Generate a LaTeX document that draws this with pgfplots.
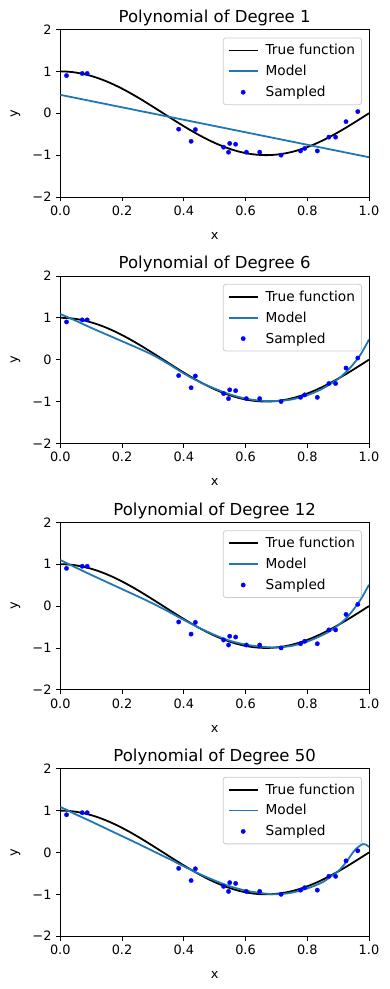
\documentclass[border=0pt]{standalone}
\usepackage{pgfplots}
\pgfplotsset{compat=1.18}
\usepackage{fontspec}
\setmainfont{DejaVu Sans}
\definecolor{mplblue}{HTML}{1F77B4}

\pgfplotstableread{
x y
0.0202 0.90
0.0710 0.95
0.0871 0.95
0.3834 -0.38
0.4237 -0.67
0.4376 -0.39
0.5289 -0.81
0.5449 -0.93
0.5488 -0.72
0.5680 -0.74
0.6028 -0.93
0.6459 -0.93
0.7152 -1.00
0.7782 -0.90
0.7917 -0.84
0.8326 -0.90
0.8700 -0.57
0.8918 -0.57
0.9256 -0.20
0.9637 0.04
}\sampled

\pgfplotstableread{
x y
0.000 1.00000
0.025 0.99307
0.050 0.97237
0.075 0.93819
0.100 0.89101
0.125 0.83147
0.150 0.76041
0.175 0.67880
0.200 0.58779
0.225 0.48862
0.250 0.38268
0.275 0.27144
0.300 0.15643
0.325 0.03926
0.350 -0.07846
0.375 -0.19509
0.400 -0.30902
0.425 -0.41866
0.450 -0.52250
0.475 -0.61909
0.500 -0.70711
0.525 -0.78532
0.550 -0.85264
0.575 -0.90814
0.600 -0.95106
0.625 -0.98079
0.650 -0.99692
0.675 -0.99923
0.700 -0.98769
0.725 -0.96246
0.750 -0.92388
0.775 -0.87250
0.800 -0.80902
0.825 -0.73432
0.850 -0.64945
0.875 -0.55557
0.900 -0.45399
0.925 -0.34612
0.950 -0.23345
0.975 -0.11754
1.000 0.00000
}\truefn

\pgfplotstableread{
x y
0 0.44
1 -1.05
}\modelA

\pgfplotstableread{
x y
0.00 1.09
0.05 0.93
0.10 0.76
0.15 0.60
0.20 0.44
0.25 0.28
0.30 0.11
0.35 -0.10
0.40 -0.33
0.45 -0.53
0.50 -0.69
0.55 -0.83
0.60 -0.93
0.65 -0.98
0.70 -0.99
0.75 -0.95
0.80 -0.85
0.85 -0.69
0.90 -0.46
0.925 -0.30
0.95 -0.10
0.975 0.15
1.00 0.48
}\modelB

\pgfplotstableread{
x y
0.00 1.10
0.05 0.92
0.10 0.745
0.15 0.575
0.20 0.405
0.25 0.235
0.30 0.06
0.35 -0.13
0.40 -0.33
0.45 -0.52
0.50 -0.69
0.55 -0.83
0.60 -0.92
0.65 -0.97
0.70 -0.99
0.75 -0.95
0.80 -0.85
0.85 -0.69
0.875 -0.59
0.90 -0.46
0.925 -0.30
0.95 -0.08
0.975 0.18
1.00 0.51
}\modelC

\pgfplotstableread{
x y
0.00 1.09
0.05 0.91
0.10 0.74
0.15 0.565
0.20 0.39
0.25 0.215
0.30 0.035
0.35 -0.145
0.40 -0.33
0.45 -0.51
0.50 -0.67
0.55 -0.81
0.60 -0.91
0.65 -0.97
0.70 -1.00
0.75 -0.96
0.80 -0.86
0.85 -0.71
0.875 -0.58
0.90 -0.45
0.925 -0.24
0.95 0.02
0.965 0.13
0.98 0.20
0.99 0.19
1.00 0.13
}\modelD

\pgfplotsset{
  panel/.style={
    scale only axis,
    width=308.7pt, height=167.5pt,
    xmin=0, xmax=1, ymin=-2, ymax=2,
    xtick={0,0.2,0.4,0.6,0.8,1.0},
    xticklabels={0.0,0.2,0.4,0.6,0.8,1.0},
    ytick={-2,-1,0,1,2},
    yticklabels={−2,−1,0,1,2},
    xtick pos=bottom, ytick pos=left,
    tick align=outside,
    major tick length=4.3pt,
    tick style={black, line width=0.8pt},
    axis line style={line width=0.8pt},
    ticklabel style={font=\fontsize{12.9}{15}\selectfont},
    xticklabel style={yshift=-1pt},
    yticklabel style={xshift=-1pt},
    every axis title/.style={at={(axis description cs:0.5,1.0436)}, anchor=base, font=\fontsize{16.5}{19}\selectfont},
    every axis x label/.style={at={(axis description cs:0.5,-0.2537)}, anchor=base, font=\fontsize{12.9}{15}\selectfont},
    every axis y label/.style={at={(axis description cs:-0.1386,0.5)}, rotate=90, anchor=base, font=\fontsize{12.9}{15}\selectfont},
    xlabel={x}, ylabel={y},
    legend image code/.code={\draw[mark repeat=2,mark phase=2,##1] plot coordinates {(0pt,0pt) (14.5pt,0pt) (29pt,0pt)};},
    legend style={at={(0.977,0.952)}, anchor=north east, draw=black!20, rounded corners=2.5pt,
      fill=white, line width=0.8pt,
      font=\fontsize{13.7}{15}\selectfont, inner xsep=4.5pt, inner ysep=4.5pt, row sep=5pt, column sep=5pt},
    legend cell align=left,
  },
  truestyle/.style={black, line width=1.8pt, no marks, smooth},
  modelstyle/.style={mplblue, line width=1.8pt, no marks, smooth},
  samplestyle/.style={blue, only marks, mark=*, mark size=2.2pt, mark options={fill=blue, draw=blue, line width=0.3pt}},
}

\begin{document}
\begin{tikzpicture}
\useasboundingbox (-60.3pt,-792pt) rectangle (329.7pt,197pt);

\begin{axis}[panel, at={(0pt,0pt)}, title={Polynomial of Degree 1}]
\addplot[truestyle] table {\truefn};
\addlegendentry{True function}
\addplot[modelstyle] table {\modelA};
\addlegendentry{Model}
\addplot[samplestyle] table {\sampled};
\addlegendentry{Sampled}
\end{axis}

\begin{axis}[panel, at={(0pt,-246.4pt)}, title={Polynomial of Degree 6}]
\addplot[truestyle] table {\truefn};
\addlegendentry{True function}
\addplot[modelstyle] table {\modelB};
\addlegendentry{Model}
\addplot[samplestyle] table {\sampled};
\addlegendentry{Sampled}
\end{axis}

\begin{axis}[panel, at={(0pt,-492.8pt)}, title={Polynomial of Degree 12}]
\addplot[truestyle] table {\truefn};
\addlegendentry{True function}
\addplot[modelstyle] table {\modelC};
\addlegendentry{Model}
\addplot[samplestyle] table {\sampled};
\addlegendentry{Sampled}
\end{axis}

\begin{axis}[panel, at={(0pt,-739.2pt)}, title={Polynomial of Degree 50}]
\addplot[truestyle] table {\truefn};
\addlegendentry{True function}
\addplot[modelstyle] table {\modelD};
\addlegendentry{Model}
\addplot[samplestyle] table {\sampled};
\addlegendentry{Sampled}
\end{axis}
\end{tikzpicture}
\end{document}
